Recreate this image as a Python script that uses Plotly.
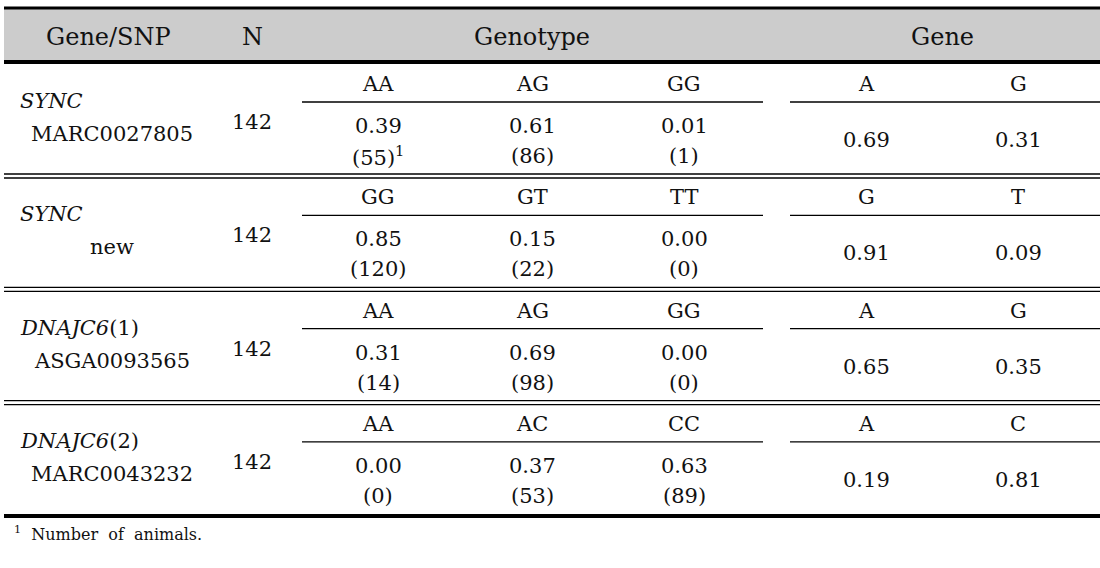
import plotly.graph_objects as go

# ---------------- data ----------------
header_labels = ["Gene/SNP", "N", "Genotype", "Gene"]
genes = ["<i>SYNC</i>", "<i>SYNC</i>", "<i>DNAJC6</i>(1)", "<i>DNAJC6</i>(2)"]
snps = ["MARC0027805", "new", "ASGA0093565", "MARC0043232"]
n_animals = [142, 142, 142, 142]
genotypes = [["AA", "AG", "GG"], ["GG", "GT", "TT"], ["AA", "AG", "GG"], ["AA", "AC", "CC"]]
geno_freq = [[0.39, 0.61, 0.01], [0.85, 0.15, 0.00], [0.31, 0.69, 0.00], [0.00, 0.37, 0.63]]
geno_count = [[55, 86, 1], [120, 22, 0], [14, 98, 0], [0, 53, 89]]
alleles = [["A", "G"], ["G", "T"], ["A", "G"], ["A", "C"]]
allele_freq = [[0.69, 0.31], [0.91, 0.09], [0.65, 0.35], [0.19, 0.81]]
footnote = "<sup>1</sup>  Number  of  animals."

# ---------------- layout constants ----------------
W, H = 1100, 568
FONT = "DejaVu Serif"
BODY = 21
HEAD = 24
X_LEFT, X_RIGHT = 4, 1100
X_GENE_LEFT, X_SNP_CENTER = 18, 112
X_N = 252
X_GENO = [378, 532, 684]
X_ALLELE = [866, 1018]
X_GENO_HEAD, X_GENE_HEAD = 532, 942
GENO_LINE = (302, 763)
ALLELE_LINE = (790, 1100)
BLOCK0, BLOCK_STEP = 63, 113.3

fig = go.Figure()
fig.add_trace(go.Scatter(x=[0, W], y=[0, H], mode="markers", marker=dict(opacity=0),
                         hoverinfo="skip", showlegend=False))

shapes = []
annotations = []

def text(x, y, s, size=BODY, xanchor="center", color="#111111"):
    annotations.append(dict(x=x, y=y, xref="x", yref="y", text=s, showarrow=False,
                            xanchor=xanchor, yanchor="middle",
                            font=dict(family=FONT, size=size, color=color)))

def hline(x0, x1, y, width, color="black"):
    shapes.append(dict(type="line", xref="x", yref="y", x0=x0, x1=x1, y0=y, y1=y,
                       line=dict(color=color, width=width)))

# header band
shapes.append(dict(type="rect", xref="x", yref="y", x0=X_LEFT, x1=X_RIGHT, y0=9, y1=61,
                   fillcolor="#cccccc", line=dict(width=0), layer="below"))
hline(X_LEFT, X_RIGHT, 8, 3)
hline(X_LEFT, X_RIGHT, 62, 4)
text(108, 37, header_labels[0], HEAD)
text(X_N, 37, header_labels[1], HEAD)
text(X_GENO_HEAD, 37, header_labels[2], HEAD)
text(X_GENE_HEAD, 37, header_labels[3], HEAD)

for i in range(len(genes)):
    b = BLOCK0 + BLOCK_STEP * i
    text(X_GENE_LEFT, b + 38, genes[i], BODY, xanchor="left")
    text(X_SNP_CENTER, b + 71, snps[i], BODY)
    text(X_N, b + 59, str(n_animals[i]), BODY)
    for j in range(3):
        text(X_GENO[j], b + 21, genotypes[i][j], BODY)
        text(X_GENO[j], b + 63, f"{geno_freq[i][j]:.2f}", BODY)
        cnt = f"({geno_count[i][j]})"
        if i == 0 and j == 0:
            cnt += "<sup>1</sup>"
        text(X_GENO[j], b + 93, cnt, BODY)
    for k in range(2):
        text(X_ALLELE[k], b + 21, alleles[i][k], BODY)
        text(X_ALLELE[k], b + 77, f"{allele_freq[i][k]:.2f}", BODY)
    hline(GENO_LINE[0], GENO_LINE[1], b + 39, 1.3)
    hline(ALLELE_LINE[0], ALLELE_LINE[1], b + 39, 1.3)
    if i < len(genes) - 1:
        hline(X_LEFT, X_RIGHT, b + 111, 1.3)
        hline(X_LEFT, X_RIGHT, b + 115, 1.3)
    else:
        hline(X_LEFT, X_RIGHT, b + 113, 4)

text(12, 533, footnote, 16, xanchor="left")

fig.update_layout(
    width=W, height=H, margin=dict(l=0, r=0, t=0, b=0),
    paper_bgcolor="white", plot_bgcolor="white",
    xaxis=dict(range=[0, W], visible=False, fixedrange=True),
    yaxis=dict(range=[H, 0], visible=False, fixedrange=True),
    shapes=shapes, annotations=annotations, showlegend=False,
)
fig.write_html("out.html", config=dict(displayModeBar=False),
               post_script="document.body.style.margin='0';document.body.style.overflow='hidden';")
